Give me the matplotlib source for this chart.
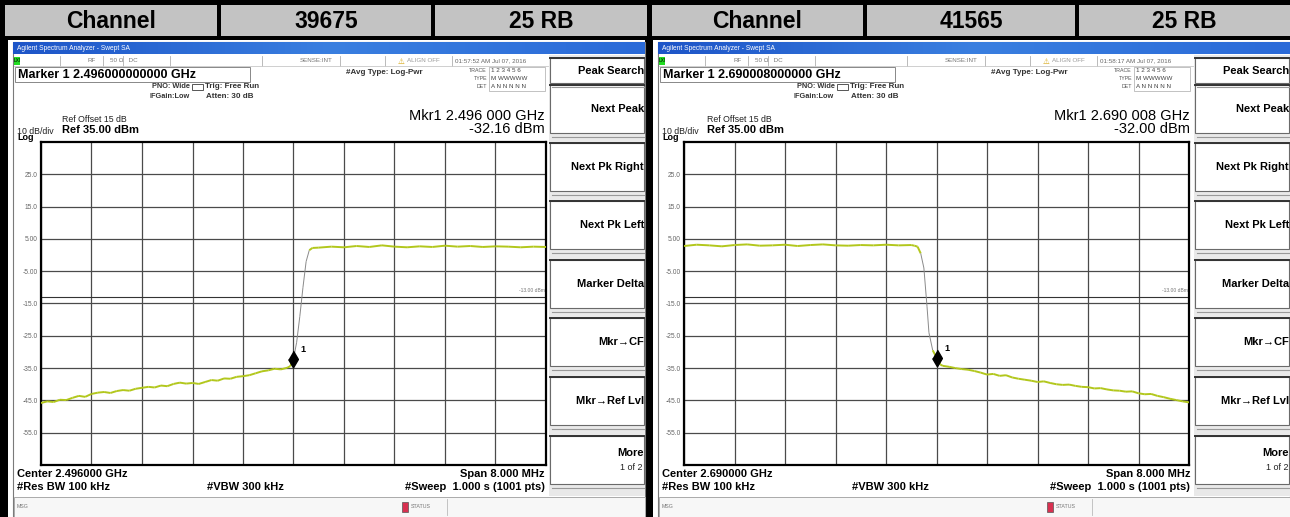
import numpy as np
import matplotlib.pyplot as plt
from matplotlib.patches import Rectangle
from matplotlib.collections import LineCollection
from matplotlib.colors import LinearSegmentedColormap

plt.rcParams['font.family'] = ['Liberation Sans', 'DejaVu Sans']

W, H = 1290, 517

# header row
header_left = ['Channel', 'Channel']
channels = ['39675', '41565']
rb_labels = ['25 RB', '25 RB']

# analyzer settings
center_ghz = [2.496000, 2.690000]
marker_ghz = [2.496000, 2.690008]
marker_dbm = [-32.16, -32.00]
timestamps = ['01:57:52 AM Jul 07, 2016', '01:58:17 AM Jul 07, 2016']
span_mhz = 8.0
ref_dbm = 35.0
db_per_div = 10
display_line = -13.0

# traces: offset from center (MHz), level (dBm)
trace1_mhz = [-4.0, -3.9, -3.8, -3.7, -3.6, -3.5, -3.4, -3.3, -3.2, -3.1,
              -3.0, -2.9, -2.8, -2.7, -2.6, -2.5, -2.4, -2.3, -2.2, -2.1,
              -2.0, -1.9, -1.8, -1.7, -1.6, -1.5, -1.4, -1.3, -1.2, -1.1,
              -1.0, -0.9, -0.8, -0.7, -0.6, -0.5, -0.4, -0.3, -0.2, -0.1,
              -0.05, 0.0, 0.05, 0.1, 0.15, 0.2, 0.25, 0.3, 0.4, 0.6,
              0.8, 1.0, 1.2, 1.4, 1.6, 1.8, 2.0, 2.2, 2.4, 2.6,
              2.8, 3.0, 3.2, 3.4, 3.6, 3.8, 4.0]
trace1_dbm = [-45.8, -45.3, -45.5, -44.8, -44.9, -44.2, -43.6, -43.9, -43.0, -42.6,
              -42.4, -42.7, -42.1, -41.8, -42.0, -41.4, -41.1, -40.8, -41.0, -40.4,
              -40.6, -39.9, -39.5, -39.8, -39.6, -39.9, -39.3, -38.7, -38.9, -38.2,
              -38.3, -37.7, -37.5, -37.2, -36.6, -36.0, -35.7, -35.2, -35.4, -34.9,
              -34.4, -32.16, -27.0, -19.0, -10.0, -2.0, 1.5, 2.2, 2.3, 2.6,
              2.4, 2.8, 2.5, 3.0, 2.6, 2.4, 2.7, 2.5, 2.9, 2.6,
              2.8, 2.5, 2.7, 2.6, 2.4, 2.6, 2.5]

trace2_mhz = [-4.0, -3.8, -3.6, -3.4, -3.2, -3.0, -2.8, -2.6, -2.4, -2.2,
              -2.0, -1.8, -1.6, -1.4, -1.2, -1.0, -0.8, -0.6, -0.4, -0.35,
              -0.3, -0.25, -0.2, -0.15, -0.12, -0.06, 0.008, 0.06, 0.1, 0.2,
              0.3, 0.4, 0.5, 0.6, 0.7, 0.8, 0.9, 1.0, 1.1, 1.2,
              1.3, 1.4, 1.5, 1.6, 1.7, 1.8, 1.9, 2.0, 2.1, 2.2,
              2.3, 2.4, 2.5, 2.6, 2.7, 2.8, 2.9, 3.0, 3.1, 3.2,
              3.3, 3.4, 3.5, 3.6, 3.7, 3.8, 3.9, 4.0]
trace2_dbm = [2.8, 3.2, 3.0, 2.7, 3.1, 3.3, 2.9, 3.0, 3.2, 2.8,
              3.1, 3.3, 3.0, 2.9, 3.1, 3.0, 3.2, 3.0, 3.1, 2.9,
              2.6, 0.5, -4.0, -16.0, -24.0, -29.5, -32.00, -33.9, -34.3, -34.6,
              -35.0, -35.3, -35.5, -35.9, -36.4, -37.0, -36.8, -37.4, -37.2, -37.9,
              -38.3, -38.6, -38.9, -39.3, -39.1, -39.6, -40.0, -40.2, -40.1, -40.5,
              -40.8, -40.9, -41.3, -41.2, -41.6, -41.9, -42.0, -42.3, -42.2, -42.8,
              -43.1, -43.0, -43.6, -44.0, -44.5, -44.9, -45.3, -45.6]

traces = [(trace1_mhz, trace1_dbm), (trace2_mhz, trace2_dbm)]

y_ticks = [25, 15, 5, -5, -15, -25, -35, -45, -55]
y_tick_labels = ['25.0', '15.0', '5.00', '-5.00', '-15.0', '-25.0', '-35.0', '-45.0', '-55.0']

softkeys = ['Peak Search', 'Next Peak', 'Next Pk Right', 'Next Pk Left',
            'Marker Delta', 'Mkr\u2192CF', 'Mkr\u2192Ref Lvl', 'More']
softkey_tops = [58, 85, 143, 201, 260, 318, 377, 436]

trace_color = '#b2c71c'

fig = plt.figure(figsize=(W / 100, H / 100), dpi=100, facecolor='black')
bg = fig.add_axes([0, 0, 1, 1])
bg.set_xlim(0, W)
bg.set_ylim(H, 0)
bg.axis('off')


def rect(x0, y0, x1, y1, **kw):
    bg.add_patch(Rectangle((x0, y0), x1 - x0, y1 - y0, **kw))


def txt(x, y, s, size, weight='normal', ha='left', color='black', **kw):
    bg.text(x, y, s, fontsize=size, fontweight=weight, ha=ha, va='center',
            color=color, **kw)


# header cells
for p, (x0, x1) in enumerate([(5, 647), (652, 1290)]):
    third = (x1 - x0) / 3
    labels = [header_left[p], channels[p], rb_labels[p]]
    for k in range(3):
        cx0 = x0 + k * third + (0 if k == 0 else 2)
        cx1 = x0 + (k + 1) * third - (2 if k < 2 else 0)
        rect(cx0, 5, cx1, 36, facecolor='#c3c3c3', edgecolor='none')
        txt((cx0 + cx1) / 2, 21, labels[k], 16.5, weight='bold', ha='center')

blue = LinearSegmentedColormap.from_list('bar', ['#1d55c8', '#3a7fe0', '#2a6ad8'])


def draw_panel(i, dx, plot_left):
    # window background
    rect(dx + 8, 40, dx + 645, H, facecolor='white', edgecolor='none')
    rect(dx + 13, 42, dx + 645, H, facecolor='white', edgecolor='#7a7a7a', lw=0.8)
    grad = np.linspace(0, 1, 200).reshape(1, -1)
    bg.imshow(grad, extent=(dx + 13, dx + 645, 54, 42), cmap=blue, aspect='auto', zorder=2)
    txt(dx + 17, 48, 'Agilent Spectrum Analyzer - Swept SA', 4.8, color='white', zorder=3)

    # status row
    rect(dx + 14, 57, dx + 20, 65, facecolor='#22dd22', edgecolor='none')
    txt(dx + 14, 61, 'LXI', 3.5)
    for sx in [60, 103, 123, 170, 262, 340, 385, 452]:
        bg.plot([dx + sx, dx + sx], [56, 66], color='#b0b0b0', lw=0.6)
    bg.plot([dx + 14, dx + 548], [66, 66], color='#c8c8c8', lw=0.6)
    txt(dx + 88, 61, 'RF', 4.5, color='#777')
    txt(dx + 110, 61, '50 \u03a9   DC', 4.5, color='#777')
    txt(dx + 300, 61, 'SENSE:INT', 4.5, color='#777')
    txt(dx + 398, 61, '\u26a0', 5.5, color='#d4a000', family=['DejaVu Sans'])
    txt(dx + 407, 61, 'ALIGN OFF', 4.5, color='#999')
    txt(dx + 455, 61, timestamps[i], 4.5, color='#666')

    # marker readout box
    rect(dx + 15, 67, dx + 250, 82, facecolor='white', edgecolor='#888', lw=0.7)
    txt(dx + 18, 75, 'Marker 1 %.12f GHz' % marker_ghz[i], 9, weight='bold')
    txt(dx + 152, 87, 'PNO: Wide', 5.3, weight='bold', color='#333')
    rect(dx + 192, 84, dx + 203, 90, facecolor='white', edgecolor='#555', lw=0.7)
    txt(dx + 149, 96, 'IFGain:Low', 5.3, weight='bold', color='#333')
    txt(dx + 205, 86, 'Trig: Free Run', 5.8, weight='bold', color='#333')
    txt(dx + 206, 96, 'Atten: 30 dB', 5.8, weight='bold', color='#333')
    txt(dx + 346, 72, '#Avg Type: Log-Pwr', 5.8, weight='bold', color='#333')
    txt(dx + 487, 71, 'TRACE', 3.8, ha='right', color='#555')
    txt(dx + 487, 79, 'TYPE', 3.8, ha='right', color='#555')
    txt(dx + 487, 87, 'DET', 3.8, ha='right', color='#555')
    rect(dx + 489, 67, dx + 545, 91, facecolor='white', edgecolor='#aaa', lw=0.5)
    txt(dx + 491, 71, '1 2 3 4 5 6', 4.5, color='#444')
    txt(dx + 491, 79, 'M WWWWW', 4.5, color='#444')
    txt(dx + 491, 87, 'A N N N N N', 4.5, color='#444')

    mk_off = (marker_ghz[i] - center_ghz[i]) * 1000
    ghz = '%.6f' % marker_ghz[i]
    txt(dx + 545, 116, 'Mkr1 %s %s GHz' % (ghz[:5], ghz[5:]), 10.5, ha='right')
    txt(dx + 545, 129, '%.2f dBm' % marker_dbm[i], 10.5, ha='right')
    txt(dx + 62, 119, 'Ref Offset 15 dB', 6.3, color='#222')
    txt(dx + 62, 130, 'Ref %.2f dBm' % ref_dbm, 8, weight='bold')
    txt(dx + 17, 131, '%d dB/div' % db_per_div, 6.3, color='#222')
    txt(dx + 17, 138, 'Log', 6.5, weight='bold')

    # bottom annotations
    txt(dx + 17, 474, 'Center %.6f GHz' % center_ghz[i], 8, weight='bold')
    txt(dx + 17, 487, '#Res BW 100 kHz', 8, weight='bold')
    txt(dx + 207, 487, '#VBW 300 kHz', 8, weight='bold')
    txt(dx + 545, 474, 'Span %.3f MHz' % span_mhz, 8, weight='bold', ha='right')
    txt(dx + 545, 487, '#Sweep  1.000 s (1001 pts)', 8, weight='bold', ha='right')

    # status bar
    rect(dx + 14, 497, dx + 645, H, facecolor='#f7f7f7', edgecolor='#aaa', lw=0.7)
    txt(dx + 17, 507, 'MSG', 3.8, color='#777')
    rect(dx + 402, 502, dx + 408, 512, facecolor='#d83050', edgecolor='#555', lw=0.5)
    txt(dx + 411, 507, 'STATUS', 3.8, color='#777')
    bg.plot([dx + 447, dx + 447], [499, 515], color='#bbb', lw=0.6)

    # softkey column
    rect(dx + 549, 55, dx + 645, 496, facecolor='#e9e9e9', edgecolor='none')
    for k, (name, top) in enumerate(zip(softkeys, softkey_tops)):
        h = 25 if k == 0 else 48
        rect(dx + 550, top, dx + 644, top + h, facecolor='white', edgecolor='#6a6a6a', lw=0.8)
        bg.plot([dx + 550, dx + 644], [top, top], color='#333', lw=1.4)
        bg.plot([dx + 552, dx + 644], [top + h + 4, top + h + 4], color='#999', lw=0.8)
        if name == 'More':
            txt(dx + 644, top + 17, name, 8, weight='bold', ha='right')
            txt(dx + 643, top + 32, '1 of 2', 6.5, ha='right', color='#222')
        else:
            txt(dx + 644, top + (h / 2 if k == 0 else 24), name, 8, weight='bold', ha='right')

    # measurement grid
    ax = fig.add_axes([plot_left / W, 1 - 465 / H, 505 / W, (465 - 142) / H])
    ax.set_facecolor('white')
    ax.set_xlim(-span_mhz / 2, span_mhz / 2)
    ax.set_ylim(ref_dbm - 10 * db_per_div, ref_dbm)
    ax.set_xticks(np.linspace(-span_mhz / 2, span_mhz / 2, 11))
    ax.set_yticks(y_ticks)
    ax.set_xticklabels([])
    ax.set_yticklabels(y_tick_labels, fontsize=4.8, color='#666')
    ax.tick_params(length=0, pad=2.5)
    ax.grid(True, color='#4a4a4a', lw=0.9)
    ax.set_axisbelow(True)
    for s in ax.spines.values():
        s.set_linewidth(1.6)
        s.set_color('black')
    ax.axhline(display_line, color='#333', lw=0.8)
    ax.text(span_mhz / 2 - 0.02, display_line + 1.3, '%.2f dBm' % display_line,
            fontsize=3.6, color='#777', ha='right', va='bottom')

    fx = np.array(traces[i][0])
    fy = np.array(traces[i][1])
    pts = np.column_stack([fx, fy])
    segs = np.stack([pts[:-1], pts[1:]], axis=1)
    steep = np.abs(np.diff(fy) / np.diff(fx)) > 60
    colors = ['#8a8a8a' if s else trace_color for s in steep]
    widths = [0.7 if s else 1.4 for s in steep]
    ax.add_collection(LineCollection(segs, colors=colors, linewidths=widths, zorder=3))

    diamond = [(0, 1.7), (1, 0), (0, -1.7), (-1, 0)]
    ax.plot([mk_off], [marker_dbm[i]], marker=diamond, color='black', ms=12, zorder=4)
    ax.annotate('1', (mk_off, marker_dbm[i]), xytext=(5, 5), textcoords='offset points',
                fontsize=6.5, fontweight='bold')


draw_panel(0, 0, 41)
draw_panel(1, 645, 684)

fig.savefig('out.png', dpi=100, facecolor='black')
